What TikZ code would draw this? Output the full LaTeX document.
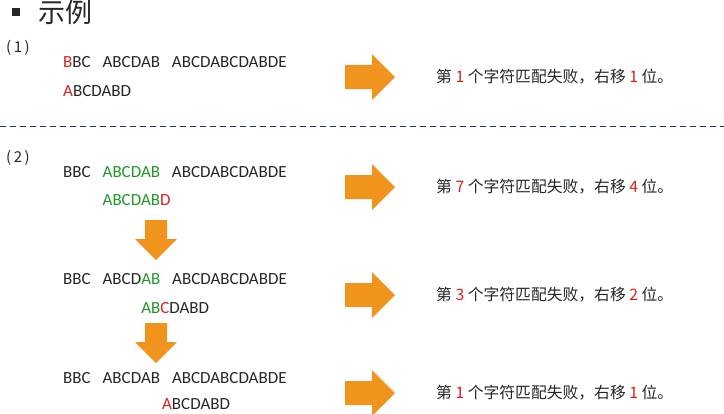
\documentclass[tikz,border=0pt]{standalone}
\usepackage{fontspec}
\setmainfont{Carlito}
\newfontfamily\cjk{Noto Sans CJK SC}
\usepackage{xcolor}
\definecolor{kred}{RGB}{220,30,30}
\definecolor{kgreen}{RGB}{30,150,40}
\definecolor{korange}{RGB}{240,148,30}
\definecolor{knavy}{RGB}{30,50,110}
\newcommand{\rc}[1]{\textcolor{kred}{#1}}
\newcommand{\gc}[1]{\textcolor{kgreen}{#1}}
\newcommand{\sep}{\hspace{0.7em}}
\tikzset{
    seqtext/.style = {anchor=base west, inner sep=0pt, font=\fontsize{17}{17}\selectfont, text=black!85},
    msgtext/.style = {anchor=west, inner sep=0pt, font=\cjk\fontsize{15.8}{16}\selectfont, text=black!85},
    numtext/.style = {anchor=west, inner sep=0pt, font=\cjk\fontsize{15}{15}\selectfont, text=black!85},
    arrowR/.pic = {\fill[korange] (-25,-12) -- (2,-12) -- (2,-23) -- (25,0) -- (2,23) -- (2,12) -- (-25,12) -- cycle;},
    arrowD/.pic = {\fill[korange] (-11,-20) -- (11,-20) -- (11,-1) -- (21,-1) -- (0,20) -- (-21,-1) -- (-11,-1) -- cycle;}
}
\begin{document}
\begin{tikzpicture}[x=1pt,y=-1pt]
\useasboundingbox (0,0) rectangle (724,413);
% heading
\fill[black!85] (12,8) rectangle (20,16);
\node[anchor=west, inner sep=0pt, font=\cjk\fontsize{27}{27}\selectfont, text=black!85] (title) at (38,12) {示例};
% case 1
\node[numtext] (n1) at (6,48) {(\,1\,)};
\node[seqtext] (t1) at (63,67) {\rc{B}BC\sep ABCDAB\sep ABCDABCDABDE};
\node[seqtext] (p1) at (63,96) {\rc{A}BCDABD};
\pic at (370,77) {arrowR};
\node[msgtext] (m1) at (436,77) {第 \rc{1} 个字符匹配失败，右移 \rc{1} 位。};
\draw[knavy, dashed, dash pattern=on 6pt off 4pt, thick] (0,126) -- (724,126);
% case 2
\node[numtext] (n2) at (6,158) {(\,2\,)};
\node[seqtext] (t2) at (63,177) {BBC\sep \gc{ABCDAB}\sep ABCDABCDABDE};
\node[seqtext] (p2) at (63,205) {\phantom{BBC\sep}\gc{ABCDAB}\rc{D}};
\pic at (370,187) {arrowR};
\node[msgtext] (m2) at (436,187) {第 \rc{7} 个字符匹配失败，右移 \rc{4} 位。};
\pic at (156,240) {arrowD};
\node[seqtext] (t3) at (63,284) {BBC\sep ABCD\gc{AB}\sep ABCDABCDABDE};
\node[seqtext] (p3) at (63,313) {\phantom{BBC\sep ABCD}\gc{AB}\rc{C}DABD};
\pic at (370,295) {arrowR};
\node[msgtext] (m3) at (436,295) {第 \rc{3} 个字符匹配失败，右移 \rc{2} 位。};
\pic at (156,343) {arrowD};
\node[seqtext] (t4) at (63,383) {BBC\sep ABCDAB\sep ABCDABCDABDE};
\node[seqtext] (p4) at (63,409) {\phantom{BBC\sep ABCDAB\sep}\llap{\rc{A}}BCDABD};
\pic at (370,393) {arrowR};
\node[msgtext] (m4) at (436,393) {第 \rc{1} 个字符匹配失败，右移 \rc{1} 位。};
\end{tikzpicture}
\end{document}
